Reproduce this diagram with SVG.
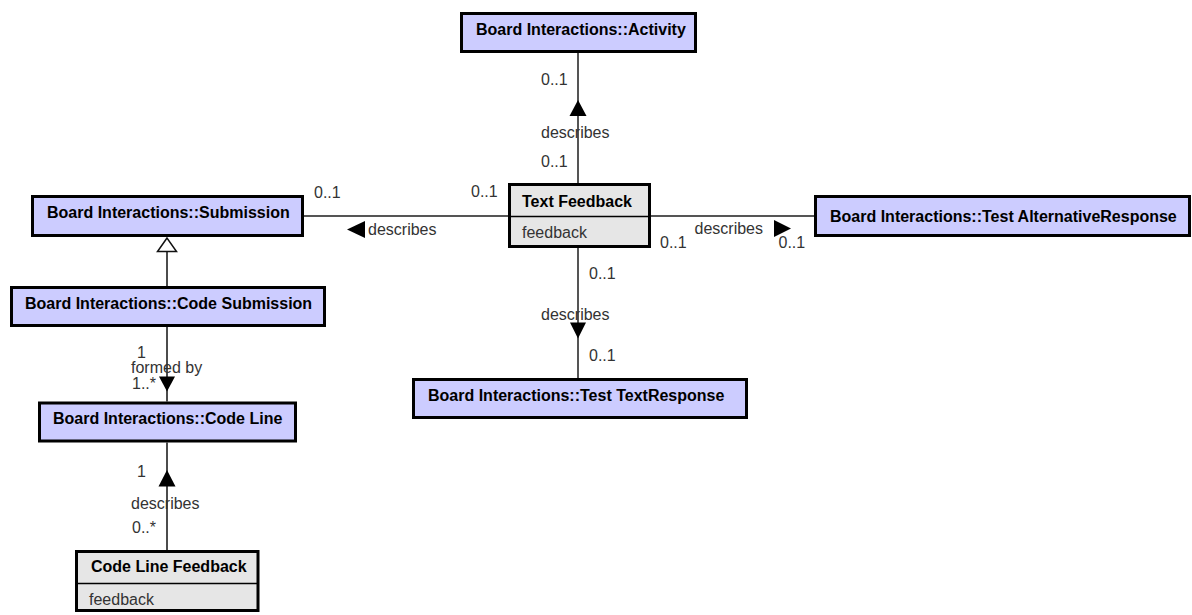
<svg xmlns="http://www.w3.org/2000/svg" width="1192" height="615" viewBox="0 0 1192 615">
  <style>
    .cls { fill: #ccccff; stroke: #000; stroke-width: 3; }
    .dt { fill: #e6e6e6; stroke: #000; stroke-width: 3; }
    .sep { stroke: #000; stroke-width: 1.5; fill: none; }
    .title { font-family: "Liberation Sans", Arial, sans-serif; font-size: 16px; font-weight: bold; fill: #000; }
    .attr { font-family: "Liberation Sans", Arial, sans-serif; font-size: 16px; fill: #333; }
    .lbl { font-family: "Liberation Sans", Arial, sans-serif; font-size: 16px; fill: #333; }
    .assoc { stroke: #555; stroke-width: 2; fill: none; }
    .link { stroke: #111; stroke-width: 1.5; fill: none; }
    .head { fill: #000; stroke: none; }
    .hollow { fill: #fff; stroke: #111; stroke-width: 1.5; }
  </style>

  <!-- connectors -->
  <g id="connectors">
    <!-- Text Feedback -> Activity -->
    <line class="assoc" x1="578" y1="53" x2="578" y2="183"/>
    <polygon class="head" points="578,100 569.5,116 586.5,116"/>
    <text class="lbl" x="541" y="85">0..1</text>
    <text class="lbl" x="541" y="138">describes</text>
    <text class="lbl" x="541" y="167">0..1</text>

    <!-- Text Feedback -> Submission -->
    <line class="assoc" x1="304" y1="216" x2="508" y2="216"/>
    <polygon class="head" points="347,229.5 365,221 365,238"/>
    <text class="lbl" x="314" y="198">0..1</text>
    <text class="lbl" x="368" y="234.5">describes</text>
    <text class="lbl" x="471" y="197">0..1</text>

    <!-- Text Feedback -> Test AlternativeResponse -->
    <line class="assoc" x1="651" y1="216" x2="814" y2="216"/>
    <polygon class="head" points="791,228.5 774,220 774,237"/>
    <text class="lbl" x="660" y="248">0..1</text>
    <text class="lbl" x="694.5" y="233.5">describes</text>
    <text class="lbl" x="778.5" y="248">0..1</text>

    <!-- Text Feedback -> Test TextResponse -->
    <line class="assoc" x1="578" y1="248" x2="578" y2="378"/>
    <polygon class="head" points="578,338.5 570,322.5 586,322.5"/>
    <text class="lbl" x="589" y="278.5">0..1</text>
    <text class="lbl" x="541" y="319.5">describes</text>
    <text class="lbl" x="589" y="361">0..1</text>

    <!-- Code Submission generalizes Submission -->
    <line class="link" x1="167" y1="251.5" x2="167" y2="286"/>
    <polygon class="hollow" points="167,238 157.5,251.5 176.5,251.5"/>

    <!-- Code Submission formed by Code Line -->
    <line class="link" x1="167" y1="327" x2="167" y2="401.5"/>
    <polygon class="head" points="167,391.5 159,376.5 175,376.5"/>
    <text class="lbl" x="137" y="358">1</text>
    <text class="lbl" x="132" y="389">1..*</text>
    <text class="lbl" x="131" y="373">formed by</text>

    <!-- Code Line Feedback -> Code Line -->
    <line class="link" x1="167" y1="442.5" x2="167" y2="550"/>
    <polygon class="head" points="167,470 158.5,486.5 175.5,486.5"/>
    <text class="lbl" x="137" y="477">1</text>
    <text class="lbl" x="131" y="508.5">describes</text>
    <text class="lbl" x="132" y="533">0..*</text>
  </g>

  <!-- classes -->
  <g id="activity">
    <rect class="cls" x="461.5" y="13.5" width="234" height="38"/>
    <text class="title" x="476" y="35">Board Interactions::Activity</text>
  </g>

  <g id="text-feedback">
    <rect class="dt" x="509.5" y="184.5" width="140" height="62"/>
    <line class="sep" x1="509.5" y1="216.5" x2="649.5" y2="216.5"/>
    <text class="title" x="522" y="207">Text Feedback</text>
    <text class="attr" x="522" y="238">feedback</text>
  </g>

  <g id="submission">
    <rect class="cls" x="32.5" y="196.5" width="270" height="39"/>
    <text class="title" x="47" y="218">Board Interactions::Submission</text>
  </g>

  <g id="test-alternative-response">
    <rect class="cls" x="815.5" y="196.5" width="374" height="39"/>
    <text class="title" x="830" y="222">Board Interactions::Test AlternativeResponse</text>
  </g>

  <g id="code-submission">
    <rect class="cls" x="11.5" y="287.5" width="313" height="38"/>
    <text class="title" x="25" y="309">Board Interactions::Code Submission</text>
  </g>

  <g id="test-text-response">
    <rect class="cls" x="413.5" y="379.5" width="333" height="38"/>
    <text class="title" x="428" y="401">Board Interactions::Test TextResponse</text>
  </g>

  <g id="code-line">
    <rect class="cls" x="39.5" y="403" width="256" height="38"/>
    <text class="title" x="53" y="424">Board Interactions::Code Line</text>
  </g>

  <g id="code-line-feedback">
    <rect class="dt" x="76.5" y="551.5" width="181.5" height="59"/>
    <line class="sep" x1="76.5" y1="583.5" x2="258" y2="583.5"/>
    <text class="title" x="91" y="572">Code Line Feedback</text>
    <text class="attr" x="89" y="605">feedback</text>
  </g>
</svg>
